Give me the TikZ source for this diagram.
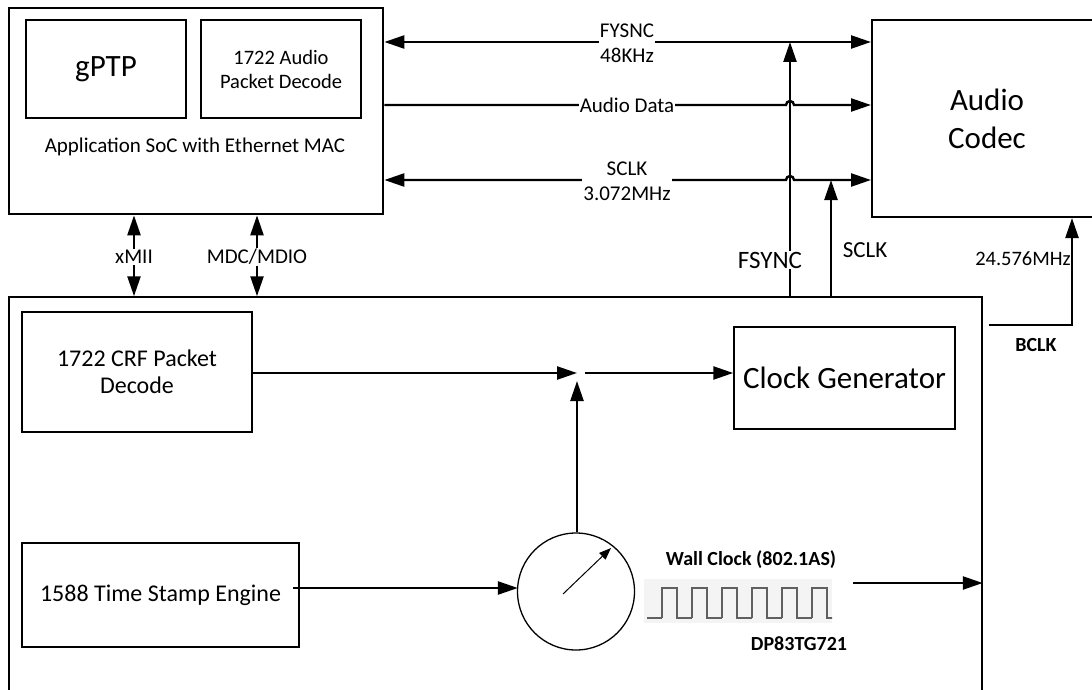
\documentclass[tikz,border=0pt]{standalone}
\usepackage{fontspec}
\setmainfont{Carlito}
\usetikzlibrary{arrows.meta,calc}

\tikzset{
    blk/.style={draw, line width=1.5pt, inner sep=0pt, align=center},
    lbl/.style={fill=white, inner sep=1pt, align=center},
    sig/.style={line width=2.4pt, -{Triangle[length=20pt,width=13pt]}},
    sigboth/.style={line width=2.4pt, {Triangle[length=20pt,width=13pt]}-{Triangle[length=20pt,width=13pt]}},
    fnt/.style={font=\fontsize{#1}{#1}\selectfont},
    fntb/.style={font=\fontsize{#1}{#1}\selectfont\bfseries}
}

\begin{document}
\begin{tikzpicture}[x=1pt, y=-1pt]
    \useasboundingbox (0,0) rectangle (1092,690);

    % Define the boxes
    \node (soc) [blk, line width=2.7pt, minimum width=374pt, minimum height=206pt] at (196,111) {};
    \node (gptp) [blk, minimum width=160pt, minimum height=98pt, fnt=31] at (106,69) {gPTP};
    \node (apd) [blk, minimum width=160pt, minimum height=98pt, fnt=20.5] at (281,69) {1722 Audio\\[3.5pt]Packet Decode};
    \node (soctxt) [fnt=21] at (195,147) {Application SoC with Ethernet MAC};
    \node (codec) [blk, line width=2pt, minimum width=230pt, minimum height=197pt, fnt=31] at (987,118.5) {Audio\\[7pt]Codec};
    \node (phy) [blk, minimum width=973pt, minimum height=403pt] at (495.5,498.5) {};
    \node (crf) [blk, minimum width=230pt, minimum height=120pt, fnt=24] at (137,372) {1722 CRF Packet\\[3pt]Decode};
    \node (clkgen) [blk, minimum width=221pt, minimum height=102pt, fnt=31] at (844.5,378) {Clock Generator};
    \node (tse) [blk, minimum width=277pt, minimum height=104pt, fnt=24] at (160.5,595) {1588 Time Stamp Engine};
    \node (dial) [draw, circle, line width=1.3pt, minimum size=117pt, inner sep=0pt] at (576,591.5) {};

    % Define the signal levels
    \coordinate (fs) at (0,42);
    \coordinate (ad) at (0,105);
    \coordinate (sc) at (0,180);
    \coordinate (fsx) at (790,0);
    \coordinate (scx) at (831,0);
    \coordinate (jn) at (577,373);
    \coordinate (ts) at (0,588);

    % Draw the lines between SoC and codec
    \draw[sigboth] (soc.east |- fs) -- (codec.west |- fs);
    \draw[sig] (soc.east |- ad) -- ($(fsx |- ad)+(-4,0)$) arc[start angle=180, end angle=360, radius=4] -- (codec.west |- ad);
    \draw[sigboth] (soc.east |- sc) -- ($(fsx |- sc)+(-4,0)$) arc[start angle=180, end angle=360, radius=4] -- (codec.west |- sc);
    \node (fslbl) [lbl, fnt=21] at (627,43) {FYSNC\\[4pt]48KHz};
    \node (adlbl) [lbl, fnt=21] at (627,105) {Audio Data};
    \node (sclbl) [lbl, fnt=21] at (627,181) {SCLK\\[4pt]3.072MHz};

    % Draw the clocks from the PHY
    \draw[sig] (fsx |- phy.north) -- (fsx |- fs);
    \draw[sig] (scx |- phy.north) -- (scx |- sc);
    \node (fsynclbl) [lbl, fnt=25] at (770,260) {FSYNC};
    \node (sclklbl) [fnt=23] at (865,250) {SCLK};

    % Draw the xMII and MDC/MDIO links
    \draw[sigboth] (134,0 |- soc.south) -- (134,0 |- phy.north);
    \draw[sigboth] (257,0 |- soc.south) -- (257,0 |- phy.north);
    \node (xmii) [lbl, fnt=21] at (134,257) {xMII};
    \node (mdio) [lbl, fnt=21] at (257,257) {MDC/MDIO};

    % Draw the BCLK path
    \coordinate (bclka) at (989,325);
    \coordinate (bclkb) at (1072,325);
    \draw[sig] (bclka) -- (bclkb) -- (bclkb |- codec.south);
    \node (mhz) [fnt=20.5] at (1023,259) {24.576MHz};
    \node (bclk) [fntb=20] at (1036,345) {BCLK};

    % Draw the paths inside the PHY
    \draw[sig] (crf.east |- jn) -- (jn);
    \draw[sig] ($(jn)+(8,0)$) -- (clkgen.west |- jn);
    \draw[sig] (dial.north -| jn) -- ($(jn)+(0,8)$);
    \draw[sig] ($(tse.east |- ts)+(-7,0)$) -- ($(dial.west |- ts)+(1,0)$);
    \coordinate (hub) at (563,594);
    \coordinate (tip) at (611,548);
    \draw[line width=1pt, -{Triangle[length=12pt,width=9pt]}] (hub) -- (tip);

    % Draw the wall clock
    \node (wall) [fntb=20] at (751,560) {Wall Clock (802.1AS)};
    \fill[gray!9] (644,579) rectangle (832,623);
    \begin{scope}
        \clip (644,579) rectangle (832,623);
        \draw[gray!75!black, line width=1.2pt] (647,618) -- (662,618);
        \foreach \i in {0,...,5} {
            \draw[gray!75!black, line width=1.2pt] (662+30*\i,618) -- ++(0,-30) -- ++(15,0) -- ++(0,30) -- ++(15,0);
        }
    \end{scope}
    \node (dp) [fntb=20] at (799,644) {DP83TG721};
    \coordinate (wallout) at (853,583);
    \draw[sig] (wallout) -- (wallout -| phy.east);

\end{tikzpicture}
\end{document}
